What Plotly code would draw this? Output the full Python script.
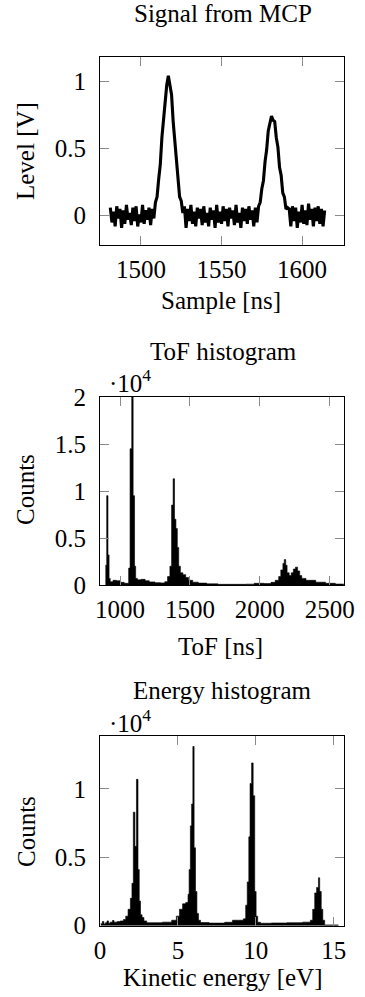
import plotly.graph_objects as go

# ---------------- data ----------------
# Signal from MCP: sample time [ns] and level [V]
sample_ns = list(range(1481, 1615))
signal_level = [
    # 1481-1508 baseline noise
    0.06, -0.05, 0.03, -0.08, 0.07, -0.02, 0.05, -0.09, 0.04, -0.06, 0.08, -0.03, 0.02, -0.07,
    0.06, -0.04, 0.07, -0.08, 0.01, -0.05, 0.08, -0.06, 0.04, -0.03, 0.06, -0.07, 0.05, -0.02,
    # 1509-1526 first peak
    0.10, 0.14, 0.27, 0.38, 0.58, 0.71, 0.90, 0.97, 1.04, 0.96, 0.90, 0.70, 0.57, 0.38, 0.29, 0.14, 0.11, 0.02,
    # 1527-1572 baseline noise
    0.07, -0.09, 0.05, -0.04, 0.08, -0.06, 0.03, -0.08, 0.06, -0.02, 0.05, -0.07, 0.07, -0.05, 0.02, -0.08,
    0.06, -0.03, 0.04, -0.09, 0.08, -0.05, 0.03, -0.06, 0.07, -0.04, 0.05, -0.08, 0.06, -0.02, 0.04, -0.07,
    0.08, -0.05, 0.02, -0.09, 0.06, -0.04, 0.05, -0.06, 0.07, -0.03, 0.04, -0.08, 0.06, -0.05,
    # 1573-1591 second peak
    0.07, 0.10, 0.20, 0.26, 0.40, 0.49, 0.63, 0.68, 0.74, 0.71, 0.70, 0.58, 0.51, 0.36, 0.30, 0.17, 0.14, 0.05, 0.06,
    # 1592-1614 baseline noise
    0.05, -0.08, 0.07, -0.04, 0.06, -0.09, 0.03, -0.05, 0.08, -0.06, 0.04, -0.07, 0.09, -0.03, 0.05, -0.08,
    0.06, -0.04, 0.07, -0.06, 0.05, -0.08, 0.04,
]

# ToF histogram: bin edges [ns] and counts
tof_edges = [896, 905, 914, 922, 930, 950, 975, 1000, 1030, 1062, 1072, 1084, 1094, 1104, 1112, 1125,
             1150, 1180, 1210, 1250, 1290, 1320, 1340, 1357, 1369, 1380, 1390, 1400, 1410, 1420, 1432,
             1450, 1470, 1490, 1520, 1560, 1620, 1700, 1900, 1960, 2030, 2080, 2110, 2135, 2150, 2165,
             2175, 2185, 2195, 2210, 2225, 2240, 2255, 2270, 2285, 2300, 2330, 2400, 2470, 2540, 2600]
tof_counts = [2100, 9500, 3200, 700, 350, 500, 450, 280, 180, 1800, 14500, 21000, 9500, 2000, 700,
              550, 600, 450, 330, 250, 220, 350, 900, 2000, 8500, 11300, 7000, 6000, 4000, 2000,
              1300, 1100, 800, 500, 300, 200, 120, 70, 90, 180, 150, 280, 500, 900, 1600, 2300,
              2700, 2100, 1300, 1000, 1300, 1700, 1900, 1500, 1000, 700, 500, 300, 180, 100]

# Energy histogram: bin edges [eV] and counts
energy_edges = [0.05, 0.15, 0.25, 0.35, 0.45, 0.55, 0.65, 0.8, 0.9, 1.1, 1.3, 1.5, 1.65, 1.8, 1.95, 2.05,
                2.14, 2.24, 2.34, 2.44, 2.52, 2.6, 2.7, 2.82, 3.0, 4.0, 4.6, 4.9, 5.1, 5.3, 5.5, 5.65,
                5.72, 5.8, 5.88, 5.96, 6.04, 6.13, 6.22, 6.32, 6.45, 7.0, 8.0, 8.5, 9.2, 9.35, 9.45,
                9.55, 9.63, 9.73, 9.83, 9.93, 10.02, 10.12, 10.3, 11.0, 12.0, 13.0, 13.5, 13.65, 13.78,
                13.9, 14.02, 14.1, 14.2, 14.3, 14.42, 15.3]
energy_counts = [150, 300, 120, 220, 350, 180, 260, 380, 260, 300, 350, 450, 700, 1200, 2000, 3100,
                 8300, 5800, 10700, 4100, 1800, 800, 600, 350, 220, 260, 400, 700, 1200, 1600, 1700,
                 2300, 4100, 7300, 8900, 13100, 5700, 2500, 900, 400, 230, 190, 250, 400, 500, 1500,
                 3200, 6500, 10400, 11900, 9500, 2500, 700, 250, 180, 200, 220, 260, 400, 1200, 2400,
                 2800, 3500, 2500, 1200, 400, 60]

# tick labels
sig_xticks = [1500, 1550, 1600]
sig_yticks = [0, 0.5, 1]
sig_yticktext = ["0", "0.5", "1"]
tof_xticks = [1000, 1500, 2000, 2500]
tof_yticks = [0, 5000, 10000, 15000, 20000]
tof_yticktext = ["0", "0.5", "1", "1.5", "2"]
en_xticks = [0, 5, 10, 15]
en_yticks = [0, 5000, 10000]
en_yticktext = ["0", "0.5", "1"]

# ---------------- layout helpers ----------------
W, H = 365, 997
FONT = "Liberation Serif"
FS = 25


def py(px):
    return 1 - px / H


def px_x(px):
    return px / W


xdom = [px_x(100), px_x(344)]

fig = go.Figure()

fig.add_trace(go.Scatter(x=sample_ns, y=signal_level, mode="lines",
                         line=dict(color="black", width=3.1), xaxis="x", yaxis="y",
                         showlegend=False, hoverinfo="skip"))


def hist_trace(edges, counts, xa, ya):
    ys = list(counts) + [counts[-1]]
    return go.Scatter(x=edges, y=ys, mode="lines", line=dict(color="black", width=0.6, shape="hv"),
                      fill="tozeroy", fillcolor="black", xaxis=xa, yaxis=ya,
                      showlegend=False, hoverinfo="skip")


fig.add_trace(hist_trace(tof_edges, tof_counts, "x2", "y2"))
fig.add_trace(hist_trace(energy_edges, energy_counts, "x3", "y3"))

axis_common = dict(showline=True, linecolor="black", linewidth=1.1, mirror="allticks",
                   ticks="inside", ticklen=9, tickwidth=1, tickcolor="#8a8a8a",
                   showgrid=False, zeroline=False, automargin=False,
                   tickfont=dict(family=FONT, size=FS, color="black"))

fig.update_layout(
    width=W, height=H, margin=dict(l=0, r=0, t=0, b=0, autoexpand=False),
    paper_bgcolor="white", plot_bgcolor="white",
    font=dict(family=FONT, size=FS, color="black"),
    xaxis=dict(domain=xdom, anchor="y", range=[1474.6, 1626], tickvals=sig_xticks,
               ticklabelstandoff=2, **axis_common),
    yaxis=dict(domain=[py(245), py(57)], anchor="x", range=[-0.218, 1.18],
               tickvals=sig_yticks, ticktext=sig_yticktext, ticklabelstandoff=8, **axis_common),
    xaxis2=dict(domain=xdom, anchor="y2", range=[857, 2602], tickvals=tof_xticks,
                ticklabelstandoff=2, **axis_common),
    yaxis2=dict(domain=[py(585), py(397)], anchor="x2", range=[0, 20000],
                tickvals=tof_yticks, ticktext=tof_yticktext, ticklabelstandoff=8, **axis_common),
    xaxis3=dict(domain=xdom, anchor="y3", range=[0, 15.66], tickvals=en_xticks,
                ticklabelstandoff=2, **axis_common),
    yaxis3=dict(domain=[py(925.7), py(736)], anchor="x3", range=[0, 13870],
                tickvals=en_yticks, ticktext=en_yticktext, ticklabelstandoff=8, **axis_common),
)


def ann(text, xpx, ypx, angle=0, size=FS):
    fig.add_annotation(text=text, x=px_x(xpx), y=py(ypx), xref="paper", yref="paper",
                       xanchor="center", yanchor="middle", showarrow=False, textangle=angle,
                       font=dict(family=FONT, size=size, color="black"))


ann("Signal from MCP", 223, 14)
ann("Level [V]", 26, 151, angle=-90)
ann("Sample [ns]", 221, 301)

ann("ToF histogram", 223, 351)
ann("·10<sup>4</sup>", 130, 381)
ann("Counts", 26, 490, angle=-90)
ann("ToF [ns]", 221, 646)

ann("Energy histogram", 222, 690)
ann("·10<sup>4</sup>", 130, 721)
ann("Counts", 26, 832, angle=-90)
ann("Kinetic energy [eV]", 222, 977)

fig.write_html("out.html")
